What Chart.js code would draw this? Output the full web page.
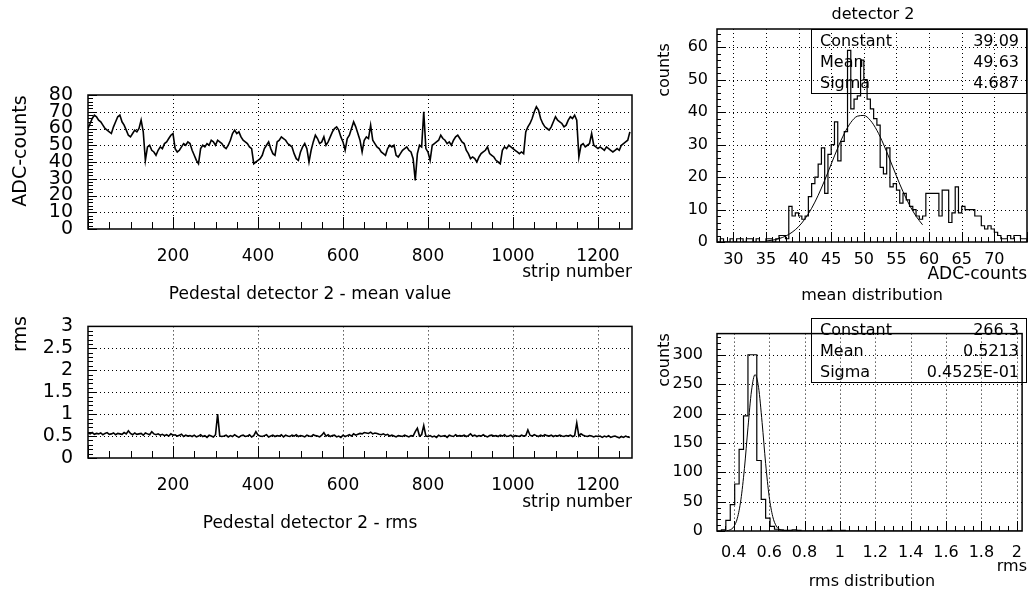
<!DOCTYPE html>
<html lang="en">
<head>
<meta charset="UTF-8">
<title>Pedestal detector 2</title>
<script src="https://cdn.jsdelivr.net/npm/chart.js"></script>
<style>
  body { margin: 0; background: white; width: 1034px; height: 590px; position: relative; overflow: hidden;
         font-family: 'DejaVu Sans', sans-serif; color: black; }
  canvas { position: absolute; }
  .lbl { position: absolute; font-size: 17px; line-height: 1; white-space: nowrap; }
  .rot { transform: translate(-50%, -50%) rotate(-90deg); }
  .ctr { transform: translate(-50%, -50%); }
  .rgt { transform: translate(-100%, -50%); }
  .stats { position: absolute; border: 1.5px solid black; font-size: 16px; box-sizing: border-box; }
  .stats div { display: flex; justify-content: space-between; padding: 0 7px 0 8px; height: 21px; line-height: 22px; }
</style>
</head>
<body>
  <canvas id="meanPlot" width="660" height="300" style="left:0;top:0"></canvas>
  <canvas id="rmsPlot" width="660" height="290" style="left:0;top:300px"></canvas>
  <canvas id="meanHist" width="374" height="310" style="left:660px;top:0"></canvas>
  <canvas id="rmsHist" width="374" height="280" style="left:660px;top:310px"></canvas>

  <div class="lbl rot" style="left:19px;top:151px;font-size:19px">ADC-counts</div>
  <div class="lbl rgt" style="left:632px;top:271px">strip number</div>
  <div class="lbl ctr" style="left:310px;top:293px">Pedestal detector 2 - mean value</div>

  <div class="lbl rot" style="left:19px;top:334px;font-size:19px">rms</div>
  <div class="lbl rgt" style="left:632px;top:501px">strip number</div>
  <div class="lbl ctr" style="left:310px;top:522px">Pedestal detector 2 - rms</div>

  <div class="lbl ctr" style="left:873px;top:14px;font-size:16px">detector 2</div>
  <div class="lbl rot" style="left:664px;top:70px;font-size:16px">counts</div>
  <div class="stats" style="left:811px;top:29px;width:216px;height:65px">
    <div><span>Constant</span><span>39.09</span></div>
    <div><span>Mean</span><span>49.63</span></div>
    <div><span>Sigma</span><span>4.687</span></div>
  </div>
  <div class="lbl rgt" style="left:1027px;top:273px">ADC-counts</div>
  <div class="lbl ctr" style="left:872px;top:295px;font-size:16px">mean distribution</div>

  <div class="lbl rot" style="left:664px;top:360px;font-size:16px">counts</div>
  <div class="stats" style="left:811px;top:318px;width:216px;height:65px">
    <div><span>Constant</span><span>266.3</span></div>
    <div><span>Mean</span><span>0.5213</span></div>
    <div><span>Sigma</span><span>0.4525E-01</span></div>
  </div>
  <div class="lbl rgt" style="left:1027px;top:566px;font-size:16px">rms</div>
  <div class="lbl ctr" style="left:872px;top:581px;font-size:16px">rms distribution</div>

<script>
// pedestal mean per strip, one value every 5 strips
const stripStep = 5;
const meanADC = [
  60,63,66,68,67,65,64,62,60,59,58,57,61,64,67,68,
  64,62,59,56,55,57,59,58,60,65,58,41,49,50,47,46,
  44,47,49,48,51,52,54,56,57,48,46,47,49,51,50,52,
  51,47,44,41,39,48,50,49,51,50,53,52,50,53,52,51,
  49,48,50,53,57,59,57,58,55,53,52,51,49,48,39,40,
  41,42,44,48,50,52,48,45,44,52,53,55,54,53,51,50,
  49,45,42,41,46,49,51,48,40,47,52,56,54,51,52,55,
  50,52,55,58,60,61,59,55,52,47,54,56,60,64,61,57,
  53,46,53,55,54,62,53,51,49,48,46,45,44,48,50,49,
  50,44,43,45,47,48,49,47,46,42,29,45,50,49,70,48,
  46,41,50,51,52,53,56,54,53,51,52,50,53,55,56,54,
  52,51,47,45,42,43,42,40,43,45,46,47,49,45,44,43,
  41,40,39,47,49,48,50,49,48,47,46,45,46,45,58,61,
  63,66,70,73,71,66,63,61,60,59,61,64,67,65,64,63,
  61,62,65,67,66,68,65,43,50,51,49,50,51,57,50,49,
  48,49,48,47,49,48,47,46,47,48,47,50,51,52,53,58
];

// pedestal rms per strip, one value every 5 strips
const rmsADC = [
  .57,.55,.58,.54,.56,.55,.57,.53,.56,.58,.54,.55,.57,.53,.56,.55,
  .54,.58,.55,.62,.56,.53,.57,.54,.55,.56,.52,.57,.55,.53,.60,.55,
  .53,.55,.52,.54,.51,.53,.50,.55,.52,.53,.50,.52,.54,.49,.52,.50,
  .51,.49,.52,.48,.50,.53,.49,.51,.47,.52,.50,.48,.53,1.0,.50,.49,
  .50,.52,.48,.51,.49,.53,.50,.47,.51,.52,.49,.50,.53,.48,.51,.60,
  .52,.50,.49,.51,.53,.48,.50,.52,.49,.51,.50,.53,.48,.52,.50,.49,
  .52,.50,.53,.49,.51,.50,.48,.52,.50,.49,.53,.51,.50,.48,.52,.58,
  .50,.53,.49,.51,.52,.48,.50,.47,.52,.49,.51,.53,.50,.55,.52,.54,
  .56,.55,.58,.57,.56,.59,.55,.57,.56,.54,.53,.55,.52,.54,.50,.52,
  .50,.48,.51,.50,.49,.52,.50,.48,.51,.50,.60,.68,.50,.53,.74,.50,
  .49,.51,.48,.50,.47,.52,.49,.50,.51,.47,.52,.50,.49,.53,.50,.51,
  .50,.52,.49,.51,.55,.50,.52,.49,.51,.50,.53,.50,.48,.51,.52,.50,
  .51,.49,.52,.50,.53,.49,.50,.52,.48,.51,.50,.49,.52,.50,.51,.64,
  .52,.50,.53,.51,.49,.52,.50,.53,.51,.50,.52,.49,.51,.50,.52,.50,
  .49,.51,.50,.52,.49,.51,.80,.50,.55,.52,.50,.49,.51,.50,.48,.50,
  .49,.50,.47,.50,.48,.51,.47,.49,.50,.48,.46,.49,.47,.50,.48,.47
];

// mean distribution histogram (bins of 0.5 ADC counts from 27.5)
const meanBinLo = 27.5, meanBinW = 0.5;
const meanCounts = [
  1,0,1,0,0,1,0,1,1,0,1,1,0,1,0,0,1,1,0,1,2,2,1,
  11,8,9,8,7,8,14,18,20,24,29,15,27,30,37,25,31,34,59,41,44,45,56,50,44,41,38,36,23,21,29,17,18,16,12,15,13,11,10,8,7,
  8,15,15,15,15,8,16,16,6,9,17,9,11,10,10,10,8,8,5,4,5,4,3,2,1,1,2,1,2,2,1
];
const meanFitX = [35,36,37,38,39,40,41,42,43,44,45,46,47,48,49,50,51,52,53,54,55,56,57,58,59];
const meanFitY = [0.30,0.57,1.04,1.80,2.99,4.73,7.18,10.39,14.37,19.0,24.0,28.96,33.39,36.80,38.74,38.97,37.46,34.40,30.19,25.31,20.28,15.52,11.36,7.94,5.30];

// rms distribution histogram (bins of 0.025 from 0.305)
const rmsBinLo = 0.305, rmsBinW = 0.025;
const rmsCounts = [
  0,0,2,18,45,80,139,196,300,300,120,54,22,8,3,2,1,1,2,1,
  0,0,0,0,0,0,1,0,0,1,0,0,0,0,0,0,0,0,0,0,
  0,0,0,0,0,0,0,0,0,0,0,0,0,0,0,0,0,0,0,0,
  0,0,0,0,0,0,0,0,0
];
const rmsFitX = [0.36,0.38,0.40,0.42,0.44,0.46,0.48,0.50,0.52,0.54,0.56,0.58,0.60,0.62,0.64,0.66,0.68];
const rmsFitY = [0.46,2.03,7.33,21.7,53.0,106.3,175.6,238.4,266.2,244.5,184.7,114.8,58.7,24.7,8.53,2.43,0.57];

function steps(min, max, step) {
  const out = [];
  for (let k = Math.ceil(min / step - 1e-9); k * step <= max + 1e-9; k++) out.push(Math.round(k * step * 1e6) / 1e6);
  return out;
}
function isMajor(v, major) {
  const r = v / major;
  return Math.abs(r - Math.round(r)) < 1e-6;
}

// dotted grid, inside ticks and frame, PAW style
const pawFrame = {
  id: 'pawFrame',
  beforeDatasetsDraw(chart, args, o) {
    const { ctx, chartArea: a, scales: { x, y } } = chart;
    ctx.save();
    ctx.strokeStyle = '#000';
    ctx.lineWidth = 1;
    ctx.setLineDash([1, 3]);
    ctx.beginPath();
    steps(x.min, x.max, o.xMajor).forEach(v => {
      const p = Math.round(x.getPixelForValue(v)) + 0.5;
      if (p < a.left + 2 || p > a.right - 2) return;
      ctx.moveTo(p, a.top); ctx.lineTo(p, a.bottom);
    });
    steps(y.min, y.max, o.yMajor).forEach(v => {
      const p = Math.round(y.getPixelForValue(v)) + 0.5;
      if (p < a.top + 2 || p > a.bottom - 2) return;
      ctx.moveTo(a.left, p); ctx.lineTo(a.right, p);
    });
    ctx.stroke();
    ctx.restore();
  },
  afterDatasetsDraw(chart, args, o) {
    const { ctx, chartArea: a, scales: { x, y } } = chart;
    ctx.save();
    ctx.strokeStyle = '#000';
    ctx.lineWidth = 1;
    ctx.beginPath();
    steps(x.min, x.max, o.xMinor).forEach(v => {
      const p = Math.round(x.getPixelForValue(v)) + 0.5;
      const len = isMajor(v, o.xMajor) ? o.xLen[1] : o.xLen[0];
      ctx.moveTo(p, a.bottom); ctx.lineTo(p, a.bottom - len);
    });
    steps(y.min, y.max, o.yMinor).forEach(v => {
      const p = Math.round(y.getPixelForValue(v)) + 0.5;
      const len = isMajor(v, o.yMajor) ? o.yLen[1] : o.yLen[0];
      ctx.moveTo(a.left, p); ctx.lineTo(a.left + len, p);
    });
    ctx.stroke();
    ctx.lineWidth = 1.5;
    ctx.strokeRect(a.left, a.top, a.right - a.left, a.bottom - a.top);
    ctx.restore();
  }
};
Chart.register(pawFrame);

const fontFamily = "'DejaVu Sans', sans-serif";

function histPoints(lo, w, counts) {
  const pts = [{ x: lo, y: 0 }];
  counts.forEach((c, i) => pts.push({ x: lo + i * w, y: c }));
  pts.push({ x: lo + counts.length * w, y: counts[counts.length - 1] });
  pts.push({ x: lo + counts.length * w, y: 0 });
  return pts;
}

// put a label on every major step, dropping the ones not wanted
function fixedTicks(step, keep) {
  return s => { s.ticks = steps(s.min, s.max, step).filter(keep).map(v => ({ value: v })); };
}

function stripChart(id, values, yMax, yStep, yMinor, top, bottom, canvasH) {
  return new Chart(document.getElementById(id), {
    type: 'scatter',
    data: {
      datasets: [{
        data: values.map((v, i) => ({ x: i * stripStep, y: v })),
        showLine: true,
        borderColor: '#000',
        borderWidth: 1.6,
        pointRadius: 0,
        tension: 0
      }]
    },
    options: {
      responsive: false,
      animation: false,
      layout: { padding: { left: 0, right: 28, top: top, bottom: 0 } },
      plugins: {
        legend: { display: false },
        tooltip: { enabled: false },
        pawFrame: { xMajor: 200, xMinor: 50, yMajor: yStep, yMinor: yMinor, xLen: [7, 12], yLen: [5, 9] }
      },
      scales: {
        x: {
          type: 'linear', min: 0, max: 1280,
          grid: { display: false, drawTicks: false }, border: { display: false },
          ticks: { autoSkip: false, maxRotation: 0, font: { family: fontFamily, size: 17 }, color: '#000', padding: 17,
                   callback: v => v },
          afterBuildTicks: fixedTicks(200, v => v > 0 && v < 1280),
          afterFit: s => { s.height = canvasH - bottom; }
        },
        y: {
          min: 0, max: yMax,
          grid: { display: false, drawTicks: false }, border: { display: false },
          ticks: { autoSkip: false, font: { family: fontFamily, size: 19 }, color: '#000', padding: 15,
                   callback: v => Math.round(v * 100) / 100 },
          afterBuildTicks: fixedTicks(yStep, () => true),
          afterFit: s => { s.width = 88; }
        }
      }
    }
  });
}

stripChart('meanPlot', meanADC, 80, 10, 2, 95, 229, 300);
stripChart('rmsPlot', rmsADC, 3, 0.5, 0.1, 23, 158, 290);

function histChart(id, lo, w, counts, fitX, fitY, xr, yMax, o, top, bottom, canvasH, xPad, yPad, xLast, yLast) {
  return new Chart(document.getElementById(id), {
    type: 'scatter',
    data: {
      datasets: [{
        data: histPoints(lo, w, counts),
        showLine: true,
        stepped: 'after',
        borderColor: '#000',
        borderWidth: 1.2,
        pointRadius: 0
      }, {
        data: fitX.map((v, i) => ({ x: v, y: fitY[i] })),
        showLine: true,
        borderColor: '#000',
        borderWidth: 1,
        pointRadius: 0,
        cubicInterpolationMode: 'monotone'
      }]
    },
    options: {
      responsive: false,
      animation: false,
      layout: { padding: { left: 0, right: 7, top: top, bottom: 0 } },
      plugins: {
        legend: { display: false },
        tooltip: { enabled: false },
        pawFrame: o
      },
      scales: {
        x: {
          type: 'linear', min: xr[0], max: xr[1],
          grid: { display: false, drawTicks: false }, border: { display: false },
          ticks: { autoSkip: false, maxRotation: 0, font: { family: fontFamily, size: 16 }, color: '#000', padding: xPad,
                   callback: v => Math.round(v * 10) / 10 },
          afterBuildTicks: fixedTicks(o.xMajor, v => v <= xLast + 1e-6),
          afterFit: s => { s.height = canvasH - bottom; }
        },
        y: {
          min: 0, max: yMax,
          grid: { display: false, drawTicks: false }, border: { display: false },
          ticks: { autoSkip: false, font: { family: fontFamily, size: 16 }, color: '#000', padding: yPad,
                   callback: v => v },
          afterBuildTicks: fixedTicks(o.yMajor, v => v <= yLast),
          afterFit: s => { s.width = 57; }
        }
      }
    }
  });
}

histChart('meanHist', meanBinLo, meanBinW, meanCounts, meanFitX, meanFitY, [27.5, 75], 65.6,
  { xMajor: 5, xMinor: 1, yMajor: 10, yMinor: 2, xLen: [5, 10], yLen: [4, 8] }, 29, 242, 310, 8, 9, 70, 60);
histChart('rmsHist', rmsBinLo, rmsBinW, rmsCounts, rmsFitX, rmsFitY, [0.305, 2.03], 336,
  { xMajor: 0.2, xMinor: 0.05, yMajor: 50, yMinor: 10, xLen: [5, 10], yLen: [4, 8] }, 8, 221, 280, 12, 14, 2, 300);
</script>
</body>
</html>
